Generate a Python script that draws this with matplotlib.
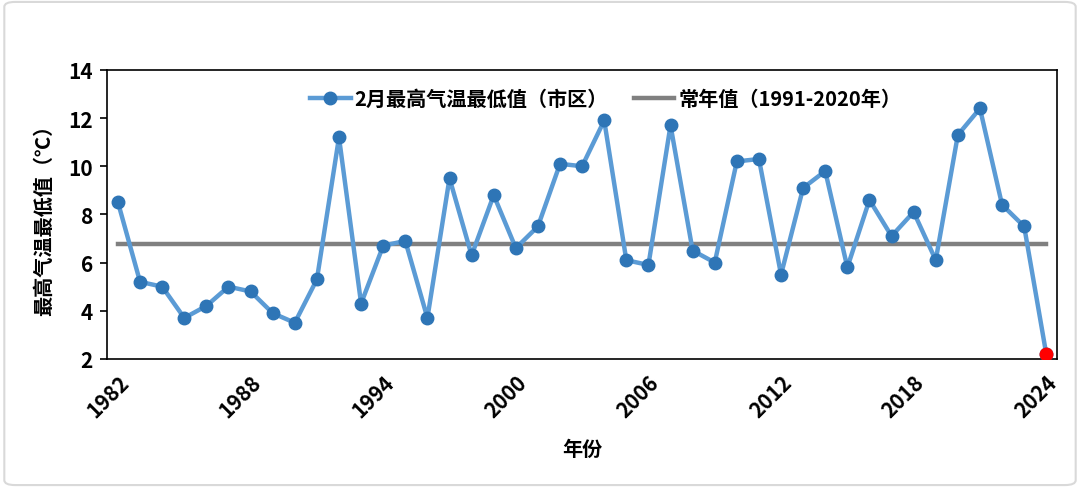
import matplotlib
matplotlib.use("Agg")
from matplotlib import pyplot as plt
from matplotlib.patches import FancyBboxPatch

plt.rcParams['font.family'] = ['Noto Sans CJK SC', 'DejaVu Sans']
plt.rcParams['font.weight'] = 'bold'

# data
years = list(range(1982, 2025))
values = [8.5, 5.2, 5.0, 3.7, 4.2, 5.0, 4.8, 3.9, 3.5, 5.3,
          11.2, 4.3, 6.7, 6.9, 3.7, 9.5, 6.3, 8.8, 6.6, 7.5,
          10.1, 10.0, 11.9, 6.1, 5.9, 11.7, 6.5, 6.0, 10.2, 10.3,
          5.5, 9.1, 9.8, 5.8, 8.6, 7.1, 8.1, 6.1, 11.3, 12.4,
          8.4, 7.5, 2.2]
normal = 6.78
tick_years = [1982, 1988, 1994, 2000, 2006, 2012, 2018, 2024]

fig = plt.figure(figsize=(10.8, 4.89), dpi=100)
ax = fig.add_axes([0.099, 0.264, 0.880, 0.591])

x = list(range(len(years)))
ax.plot(x, [normal] * len(x), color='#808080', lw=3.2,
        label='常年值（1991-2020年）', zorder=2)
ax.plot(x, values, color='#5B9BD5', lw=3.2, marker='o', ms=9,
        mfc='#2E75B6', mec='#2E75B6', label='2月最高气温最低值（市区）', zorder=3)
ax.plot(x[-1], values[-1], 'o', color='#FF0000', ms=9, zorder=4)

ax.set_xlim(-0.5, len(years) - 0.5)
ax.set_ylim(2, 14)
ax.set_yticks(range(2, 15, 2))
ax.set_xticks([years.index(y) for y in tick_years])
ax.set_xticklabels([str(y) for y in tick_years], rotation=45, ha='right',
                   rotation_mode='anchor', fontsize=15, fontweight='bold')
ax.tick_params(axis='x', length=0, pad=9)
ax.tick_params(axis='y', length=5, width=1.2, labelsize=15, pad=5)
for lab in ax.get_yticklabels():
    lab.set_fontweight('bold')
for s in ax.spines.values():
    s.set_linewidth(1.2)

ax.set_ylabel('最高气温最低值（℃）', fontsize=14.5, fontweight='bold', labelpad=10)
ax.set_xlabel('年份', fontsize=14.5, fontweight='bold', labelpad=12)

h, l = ax.get_legend_handles_labels()
ax.legend(h[::-1], l[::-1], loc='upper center', ncol=2, frameon=False,
          bbox_to_anchor=(0.525, 1.0), prop={'size': 14.5, 'weight': 'bold'},
          handlelength=2.0, columnspacing=1.3, handletextpad=0.2)

border = FancyBboxPatch((0.004, 0.006), 0.992, 0.988, boxstyle='round,pad=0,rounding_size=0.01',
                        transform=fig.transFigure, fill=False, ec='#D9D9D9', lw=1.5)
fig.patches.append(border)

fig.savefig('out.png', dpi=100)
